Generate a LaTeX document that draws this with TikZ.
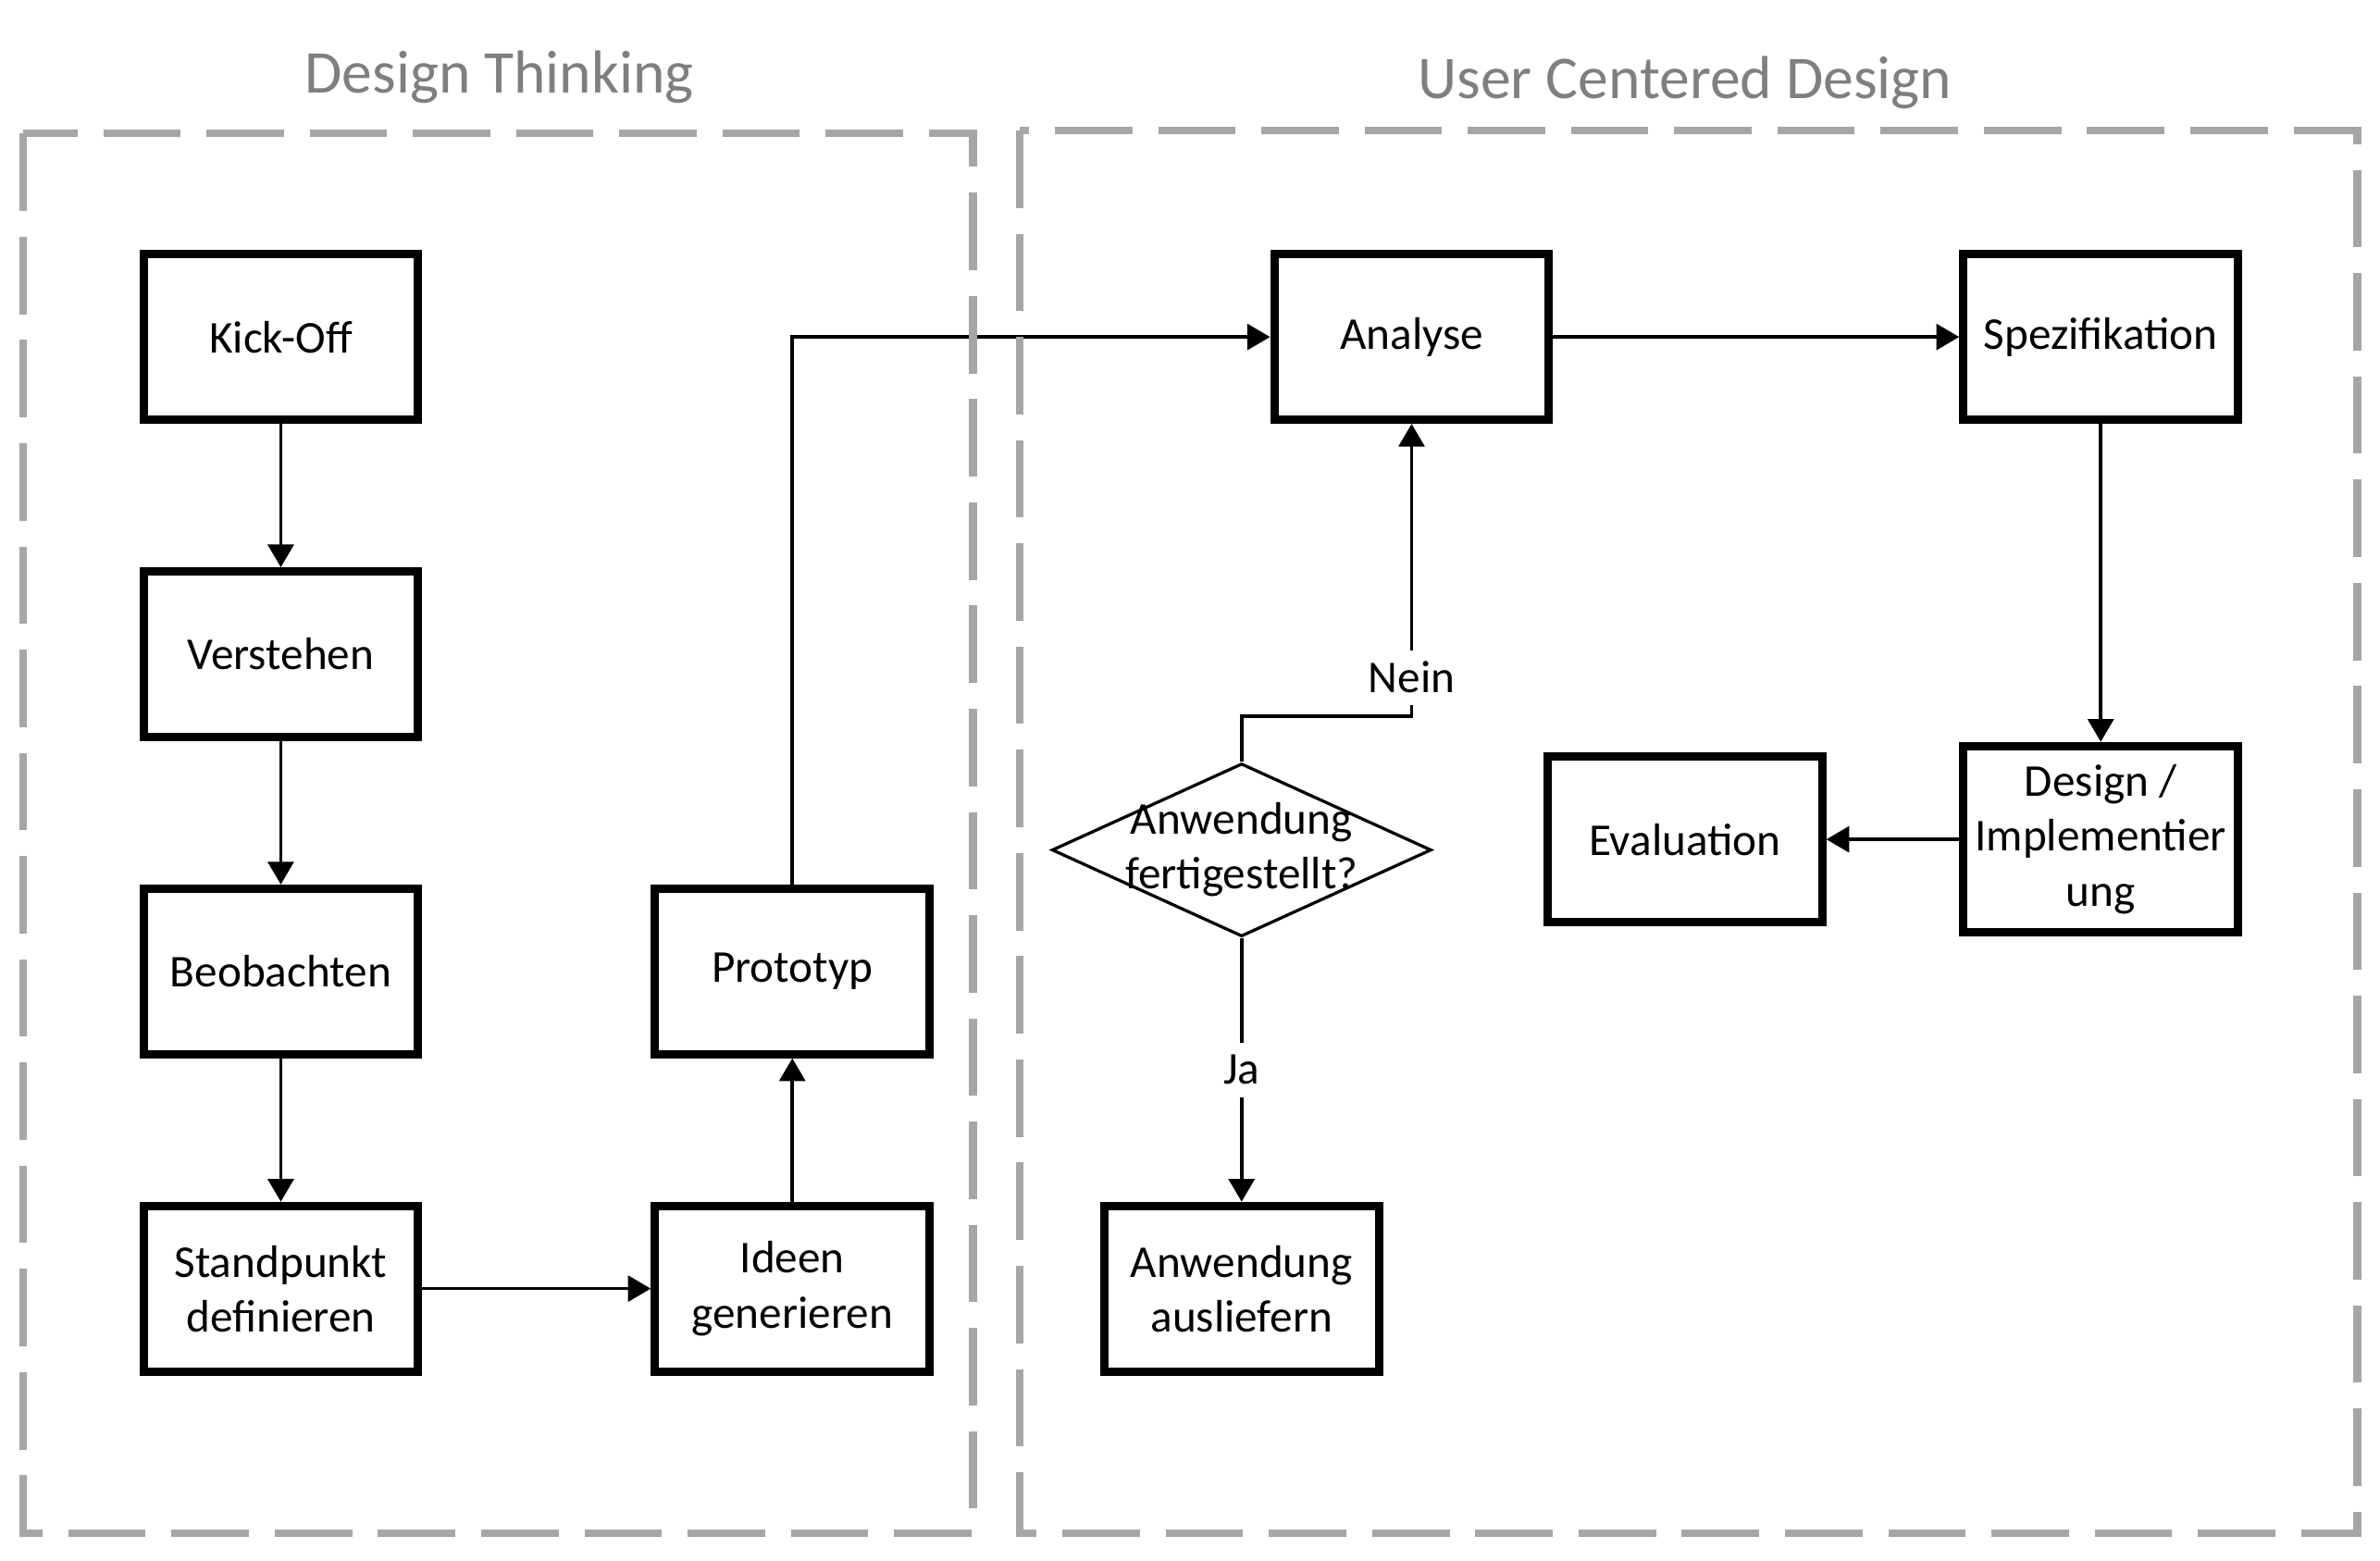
\documentclass[tikz,border=0pt]{standalone}
\usepackage{fontspec}
\setmainfont{Carlito}
\usetikzlibrary{arrows.meta,shapes.geometric}
\definecolor{framegray}{HTML}{A6A6A6}
\definecolor{titlegray}{HTML}{7F7F7F}
\begin{document}
\begin{tikzpicture}[x=0.5pt,y=-0.5pt,
  box/.style={draw=black,line width=2.75pt,minimum width=90.5pt,minimum height=54.5pt,inner sep=1pt,align=center,font=\fontsize{15}{18}\selectfont},
  conn/.style={line width=1.1pt,-{Triangle[length=7.5pt,width=8.5pt]}},
  frame/.style={draw=framegray,line width=2.5pt,dash pattern=on 25.5pt off 8.5pt},
  title/.style={text=titlegray,font=\fontsize{20}{24}\selectfont,anchor=base},
  lbl/.style={fill=white,inner sep=2pt,minimum height=18pt,font=\fontsize{15}{18}\selectfont}]
\useasboundingbox (0,0) rectangle (1568,1028);

\node[title] (t1) at (329,61) {Design Thinking};
\node[title] (t2) at (1110,65) {User Centered Design};

\node[box] (kick) at (185,222) {Kick-Off};
\node[box] (verst) at (185,431) {Verstehen};
\node[box] (beob) at (185,640) {Beobachten};
\node[box] (stand) at (185,849) {Standpunkt\\definieren};
\node[box] (ideen) at (522,849) {Ideen\\generieren};
\node[box] (proto) at (522,640) {Prototyp};
\node[box] (anal) at (930,222) {Analyse};
\node[box] (spez) at (1384,222) {Spezifikation};
\node[box,minimum height=61.5pt] (impl) at (1384,553) {Design /\\Implementier\\ung};
\node[box] (eval) at (1110,553) {Evaluation};
\node[box] (ausl) at (818,849) {Anwendung\\ausliefern};
\node[diamond,draw,line width=1pt,minimum width=125pt,minimum height=57pt,inner sep=0pt] (dia) at (818,560) {};
\node[font=\fontsize{15}{18}\selectfont,align=center,inner sep=0pt] (diatext) at (dia.center) {Anwendung\\fertigestellt?};

\coordinate (nk) at (930,472);

\draw[conn] (kick) -- (verst);
\draw[conn] (verst) -- (beob);
\draw[conn] (beob) -- (stand);
\draw[conn] (stand) -- (ideen);
\draw[conn] (ideen) -- (proto);
\draw[conn] (proto.north) |- (anal.west);
\draw[conn] (anal) -- (spez);
\draw[conn] (spez) -- (impl);
\draw[conn] (impl) -- (eval);
\draw[conn] (dia.north) |- (nk) -- (anal.south) node[lbl,pos=0.133] (nein) {Nein};
\draw[conn] (dia.south) -- (ausl.north) node[lbl,pos=0.5] (ja) {Ja};

\draw[frame] (15,88) rectangle (641,1010);
\draw[frame] (672,86) rectangle (1553,1010);
\end{tikzpicture}
\end{document}
